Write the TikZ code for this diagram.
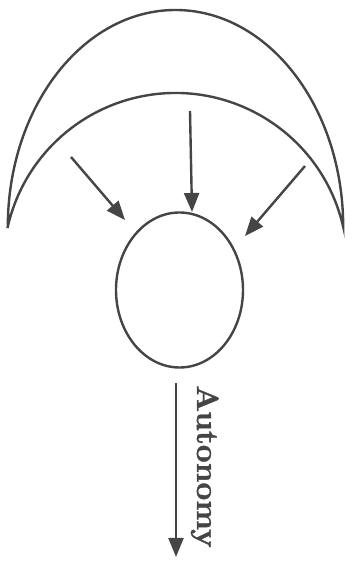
\documentclass[tikz,border=0pt]{standalone}
\usepackage{fontspec}
\usetikzlibrary{arrows.meta,shapes.geometric}
\newfontfamily\labfont{lmroman10-bold.otf}[FakeBold=1.2]
\definecolor{ink}{HTML}{454545}
\begin{document}
\begin{tikzpicture}[x=1pt,y=1pt,
  line/.style={draw=ink,line width=2.4pt},
  arr/.style={line,-{Triangle[length=19pt,width=15pt]}},
  selfnode/.style={ellipse,draw=ink,line width=2.4pt,minimum width=127pt,minimum height=155pt,inner sep=0pt}]
\useasboundingbox (0,0) rectangle (356,562);
% crescent
\draw[line,line join=miter] (7.8,335) arc[start angle=180,end angle=0,x radius=167.7,y radius=217]
  arc[start angle=12.76,end angle=167.24,radius=172] -- cycle;
% self
\node[selfnode] (self) at (179.5,272) {};
% arrow coordinates
\coordinate (l1) at (71,405);
\coordinate (l2) at (125,342);
\coordinate (m1) at (190,451);
\coordinate (m2) at (192,350);
\coordinate (r1) at (305,396);
\coordinate (r2) at (245,326);
\coordinate (b1) at (176,179);
\coordinate (b2) at (176,5);
\draw[arr] (l1) -- (l2);
\draw[arr] (m1) -- (m2);
\draw[arr] (r1) -- (r2);
\draw[arr] (b1) -- (b2);
\node[rotate=-90,anchor=base west,inner sep=0pt,text=ink,font=\labfont\fontsize{31}{31}\selectfont] (lab) at (197,177) {Autonomy};
\end{tikzpicture}
\end{document}
